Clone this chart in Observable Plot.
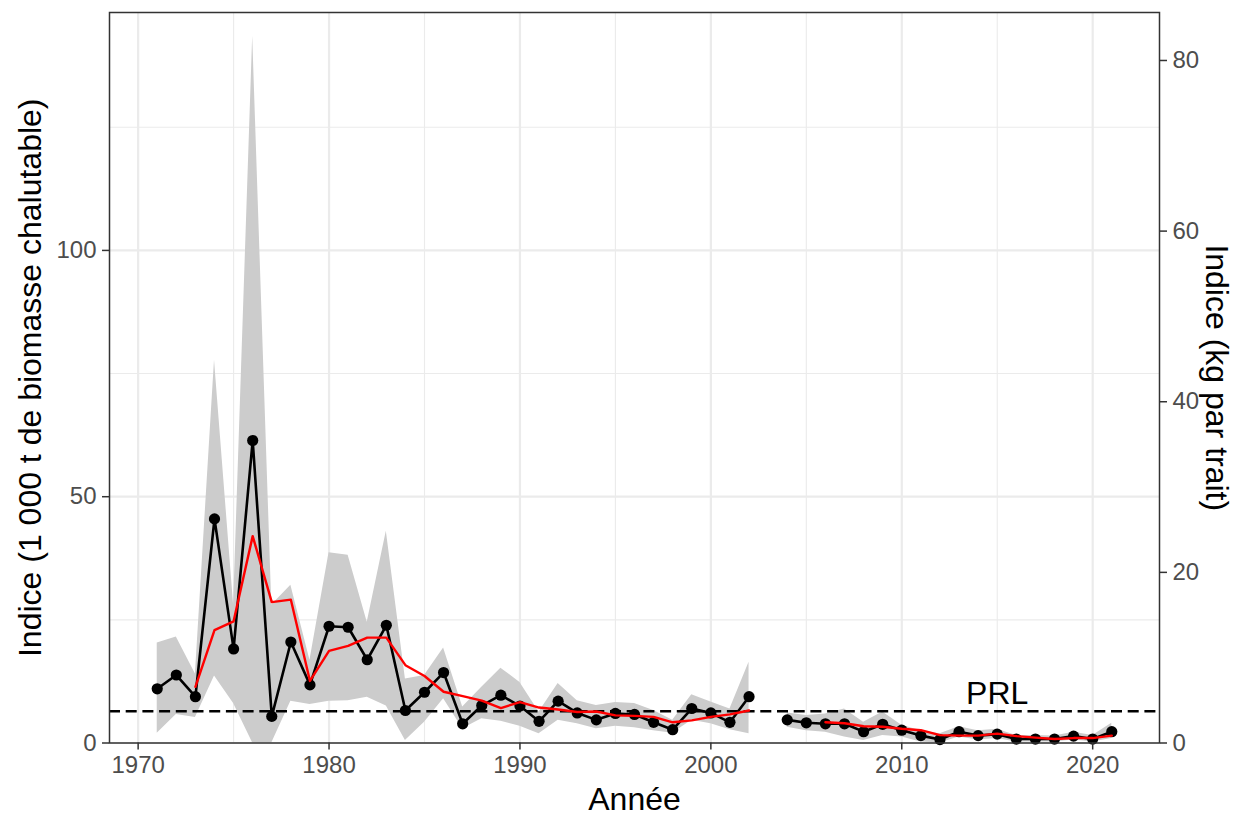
<!DOCTYPE html>
<html><head><meta charset="utf-8">
<script src="https://cdn.jsdelivr.net/npm/d3@7"></script>
<script src="https://cdn.jsdelivr.net/npm/@observablehq/plot@0.6"></script>
<style>body{margin:0;background:#fff}</style>
</head><body><div id="chart"></div>
<script>
const years = [1971,1972,1973,1974,1975,1976,1977,1978,1979,1980,1981,1982,1983,1984,1985,1986,1987,1988,1989,1990,1991,1992,1993,1994,1995,1996,1997,1998,1999,2000,2001,2002,2003,2004,2005,2006,2007,2008,2009,2010,2011,2012,2013,2014,2015,2016,2017,2018,2019,2020,2021];
const indice = [11.0,13.8,9.4,45.5,19.1,61.4,5.4,20.5,11.8,23.7,23.5,16.9,23.9,6.6,10.3,14.3,3.9,7.6,9.7,7.5,4.4,8.5,6.1,4.7,6.0,5.8,4.2,2.7,7.0,6.1,4.2,9.4,NaN,4.7,4.1,3.9,3.9,2.3,3.8,2.6,1.5,0.7,2.3,1.5,1.8,0.8,0.8,0.8,1.4,0.8,2.3];
const borneInf = [2.0,5.8,5.2,13.6,8.0,0,0,8.5,7.8,8.5,8.6,9.3,7.5,0.5,4.2,9.0,2.9,4.9,4.4,3.4,1.9,4.6,3.9,2.9,3.4,3.1,2.5,2.0,4.6,3.9,2.7,1.9,NaN,3.2,2.5,2.2,1.2,0.5,1.5,1.2,0.2,0,1.2,0.6,0.9,0.2,0.2,0.2,0.6,0.2,0.9];
const borneSup = [20.3,21.5,14.0,77.7,28.0,143.5,28.0,32.0,16.8,38.6,38.1,24.5,43.0,13.0,13.7,19.3,7.3,11.3,15.2,12.3,6.3,12.1,8.6,7.6,8.2,8.0,6.6,4.6,9.8,8.3,6.9,16.4,NaN,6.1,5.6,5.9,6.9,4.2,6.3,3.6,2.5,1.9,3.3,2.5,2.8,1.5,1.5,1.4,2.2,1.5,4.0];
const moyenne3 = [NaN,NaN,11.4,22.9,24.7,42.0,28.6,29.1,12.6,18.7,19.7,21.4,21.4,15.8,13.6,10.4,9.5,8.6,7.1,8.3,7.2,6.8,6.3,6.4,5.6,5.5,5.3,4.2,4.6,5.3,5.8,6.6,NaN,NaN,NaN,4.2,4.0,3.4,3.3,2.9,2.6,1.6,1.5,1.5,1.9,1.4,1.1,0.8,1.0,1.0,1.5];
const prl = 6.45;
const prlLabel = "PRL";
const prlLabelYear = 2015;
const kgRatio = 1.732;
const xMajor = [1970,1980,1990,2000,2010,2020];
const xMinor = [1975,1985,1995,2005,2015];
const yMajor = [0,50,100];
const yMinor = [25,75,125];
const kgTicks = [0,20,40,60,80];
const titleX = "Année";
const titleYLeft = "Indice (1 000 t de biomasse chalutable)";
const titleYRight = "Indice (kg par trait)";

const data = years.map((yr, i) => ({year: yr, v: indice[i], lo: borneInf[i], hi: borneSup[i], m: moyenne3[i]}));

const tickFs = 24, titleFs = 32;
const axisStyle = {tickSize: 7, tickPadding: 6, stroke: "#333333", strokeWidth: 1.5, fill: "#4d4d4d", fontSize: tickFs, label: null};
const chart = Plot.plot({
  width: 1237, height: 817,
  marginLeft: 109, marginRight: 78, marginTop: 12, marginBottom: 74.5,
  style: {fontFamily: "'Liberation Sans', Arial, sans-serif", background: "#fff"},
  x: {domain: [1968.5, 2023.5]},
  y: {domain: [0, 148.3]},
  marks: [
    Plot.ruleX(xMinor, {stroke: "#ebebeb", strokeWidth: 1.1}),
    Plot.ruleY(yMinor, {stroke: "#ebebeb", strokeWidth: 1.1}),
    Plot.ruleX(xMajor, {stroke: "#ebebeb", strokeWidth: 2.2}),
    Plot.ruleY(yMajor, {stroke: "#ebebeb", strokeWidth: 2.2}),
    Plot.areaY(data, {x: "year", y1: "lo", y2: "hi", fill: "#cccccc"}),
    Plot.ruleY([prl], {stroke: "black", strokeWidth: 2.5, strokeDasharray: "11,5.7"}),
    Plot.lineY(data, {x: "year", y: "v", stroke: "black", strokeWidth: 2.6}),
    Plot.dot(data, {x: "year", y: "v", r: 5.6, fill: "black", stroke: "none"}),
    Plot.lineY(data, {x: "year", y: "m", stroke: "#ff0000", strokeWidth: 2.4}),
    Plot.text([prlLabel], {x: () => prlLabelYear, y: () => prl, text: d => d, dy: -17, fontSize: titleFs, fill: "black"}),
    Plot.frame({stroke: "#333333", strokeWidth: 1.5}),
    Plot.axisX({ticks: xMajor, tickFormat: d => String(d), ...axisStyle}),
    Plot.axisY({anchor: "left", ticks: yMajor, tickFormat: d => String(d), ...axisStyle}),
    Plot.axisY({anchor: "right", ticks: kgTicks.map(k => k * kgRatio), tickFormat: d => String(Math.round(d / kgRatio)), ...axisStyle}),
    Plot.text([titleX], {text: d => d, frameAnchor: "bottom", lineAnchor: "middle", textAnchor: "middle", dy: 57, fontSize: titleFs, fill: "black"}),
    Plot.text([titleYLeft], {text: d => d, frameAnchor: "left", textAnchor: "middle", lineAnchor: "middle", dx: -79, rotate: -90, fontSize: titleFs, fill: "black"}),
    Plot.text([titleYRight], {text: d => d, frameAnchor: "right", textAnchor: "middle", lineAnchor: "middle", dx: 57, rotate: 90, fontSize: titleFs, fill: "black"})
  ]
});
document.getElementById("chart").appendChild(chart);
</script>
</body></html>
